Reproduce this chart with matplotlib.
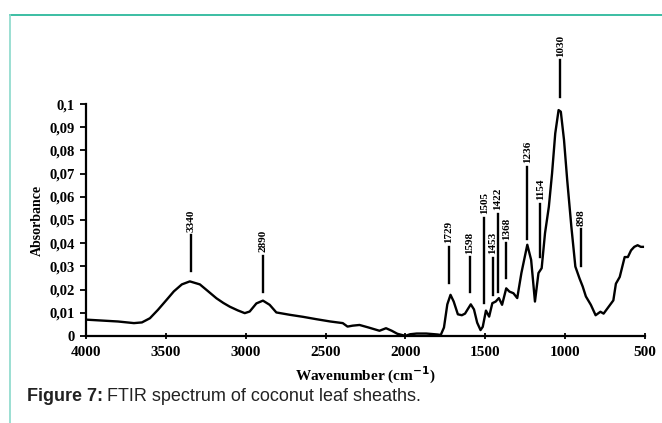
import numpy as np
import matplotlib
matplotlib.use("Agg")
import matplotlib.pyplot as plt
from matplotlib.lines import Line2D

# spectrum (wavenumber cm-1, absorbance)
wavenumber = [4000, 3900, 3800, 3700, 3650, 3600, 3550, 3496, 3450, 3400, 3350, 3287,
              3240, 3183, 3140, 3100, 3050, 3006, 2975, 2933, 2892, 2850, 2808, 2725,
              2640, 2558, 2470, 2392, 2362, 2330, 2287, 2230, 2162, 2121, 2085, 2050,
              2000, 1970, 1929, 1869, 1800, 1778, 1758, 1737, 1717, 1697, 1671, 1646,
              1626, 1610, 1590, 1570, 1550, 1529, 1515, 1495, 1475, 1455, 1434, 1414,
              1394, 1368, 1348, 1323, 1299, 1273, 1236, 1212, 1188, 1166, 1146, 1125,
              1101, 1081, 1061, 1040, 1026, 1006, 986, 960, 935, 909, 889, 869, 838,
              808, 778, 758, 727, 697, 681, 657, 626, 606, 586, 566, 545, 525, 512]
absorbance = [0.0070, 0.0066, 0.0062, 0.0055, 0.0058, 0.0076, 0.0112, 0.0155, 0.0192, 0.0222, 0.0235, 0.0222,
              0.0195, 0.0162, 0.0142, 0.0126, 0.0110, 0.0098, 0.0105, 0.0140, 0.0152, 0.0134, 0.0101, 0.0091,
              0.0082, 0.0072, 0.0062, 0.0055, 0.0040, 0.0044, 0.0047, 0.0036, 0.0022, 0.0033, 0.0022, 0.0009,
              0.0000, 0.0007, 0.0010, 0.0010, 0.0006, 0.0004, 0.0036, 0.0136, 0.0177, 0.0148, 0.0093, 0.0089,
              0.0096, 0.0114, 0.0136, 0.0114, 0.0057, 0.0025, 0.0039, 0.0109, 0.0083, 0.0141, 0.0148, 0.0163,
              0.0134, 0.0205, 0.0191, 0.0184, 0.0163, 0.0271, 0.0393, 0.0328, 0.0148, 0.0271, 0.0292, 0.0443,
              0.0557, 0.0700, 0.0873, 0.0974, 0.0967, 0.0845, 0.0672, 0.0471, 0.0299, 0.0248, 0.0213, 0.0170, 0.0134,
              0.0089, 0.0104, 0.0096, 0.0125, 0.0153, 0.0225, 0.0254, 0.0340, 0.0340, 0.0369, 0.0384, 0.0391, 0.0384, 0.0384]

# peak markers: label, bottom and top of the marker line
peak_labels = ["3340", "2890", "1729", "1598", "1505", "1453", "1422", "1368", "1236", "1154", "1030", "898"]
peak_pos = [3340, 2890, 1729, 1598, 1505, 1453, 1422, 1368, 1236, 1154, 1030, 898]
peak_lo = [0.028, 0.019, 0.0228, 0.019, 0.014, 0.0177, 0.019, 0.025, 0.042, 0.034, 0.103, 0.030]
peak_hi = [0.0435, 0.0345, 0.0384, 0.034, 0.051, 0.0336, 0.0526, 0.040, 0.073, 0.057, 0.119, 0.046]

yticks = [0, 0.01, 0.02, 0.03, 0.04, 0.05, 0.06, 0.07, 0.08, 0.09, 0.1]
ytick_labels = ["0", "0,01", "0,02", "0,03", "0,04", "0,05", "0,06", "0,07", "0,08", "0,09", "0,1"]
xticks = [4000, 3500, 3000, 2500, 2000, 1500, 1000, 500]

serif = "Liberation Serif"

fig = plt.figure(figsize=(6.62, 4.23), dpi=100)
ax = fig.add_axes([0.13, 0.206, 0.844, 0.548])

ax.plot(wavenumber, absorbance, color="black", lw=1.7, solid_joinstyle="round")
for lab, x, lo, hi in zip(peak_labels, peak_pos, peak_lo, peak_hi):
    ax.plot([x, x], [lo, hi], color="black", lw=1.7, clip_on=False)
    ax.text(x, hi + 0.0015, lab, rotation=90, ha="center", va="bottom",
            fontsize=8, fontweight="bold", family=serif)

ax.set_xlim(4000, 500)
ax.set_ylim(0, 0.1)
ax.set_xticks(xticks)
ax.set_xticklabels([str(t) for t in xticks], fontsize=11, fontweight="bold", family=serif)
ax.set_yticks(yticks)
ax.set_yticklabels(ytick_labels, fontsize=10.5, fontweight="bold", family=serif)
ax.tick_params(axis="x", direction="inout", length=5, width=1.3, pad=5)
ax.tick_params(axis="y", direction="out", length=4, width=1.3, pad=4)
for s in ["top", "right"]:
    ax.spines[s].set_visible(False)
for s in ["left", "bottom"]:
    ax.spines[s].set_linewidth(1.6)

ax.set_xlabel("Wavenumber (cm$^{\\mathbf{-1}}$)", fontsize=11, fontweight="bold", family=serif, labelpad=4)
ax.set_ylabel("Absorbance", fontsize=10, fontweight="bold", family=serif, labelpad=4)

# page frame lines
fig.add_artist(Line2D([10 / 662, 1], [1 - 15 / 423, 1 - 15 / 423], transform=fig.transFigure,
                      color="#1ab394", lw=1.2))
fig.add_artist(Line2D([10 / 662, 10 / 662], [0, 1 - 15 / 423], transform=fig.transFigure,
                      color="#8ad9cb", lw=1.2))

# caption
t1 = fig.text(27 / 662, 1 - 396 / 423, "Figure 7:", fontsize=13, fontweight="bold",
              family="Liberation Sans", color="#222222", va="center")
fig.canvas.draw()
bb = t1.get_window_extent()
fig.text(bb.x1 / fig.bbox.width + 4 / 662, 1 - 396 / 423, "FTIR spectrum of coconut leaf sheaths.",
         fontsize=13, family="Liberation Sans", color="#222222", va="center")

fig.savefig("out.png", dpi=100)
